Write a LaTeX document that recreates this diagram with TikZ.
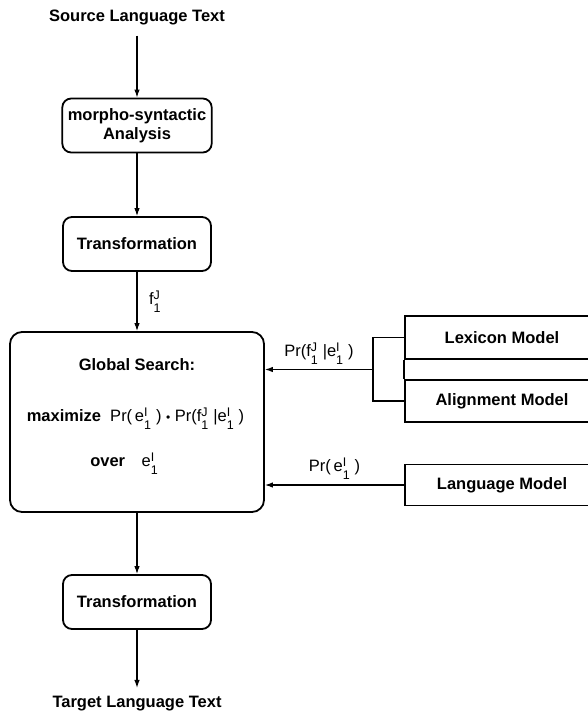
\documentclass[tikz,border=0pt]{standalone}
\usepackage{fontspec}
\setmainfont{Liberation Sans}
\usetikzlibrary{arrows.meta}

% stacked index: #1 below, #2 above
\newcommand{\idx}[2]{\makebox[0pt][l]{\raisebox{-0.5em}{\fontsize{12.5}{12}\selectfont #1}}\makebox[0.72em][l]{\raisebox{0.3em}{\fontsize{12.5}{12}\selectfont #2}}}
\newcommand{\tdot}{{\fontsize{12}{12}\selectfont\textbullet}}

\tikzset{
    stage/.style={draw, line width=1.8pt, rounded corners=9pt, minimum width=148pt,
                  minimum height=54pt, align=center, font=\bfseries},
    model/.style={draw, line width=1.8pt, minimum width=194pt, font=\bfseries},
    flow/.style={line width=1.2pt, -{Latex[length=8pt,width=5.5pt]}},
}

\begin{document}
\fontsize{16.5}{19}\selectfont
\begin{tikzpicture}[x=1pt, y=-1pt]
    \clip (0,0) rectangle (588,711);

    % left column
    \node[anchor=base, font=\bfseries] (src) at (137,21.5) {Source Language Text};
    \node[stage] (ana) at (137,125.5) {morpho-syntactic\\Analysis};
    \node[stage] (trf1) at (137,244) {Transformation};
    \node[draw, line width=1.8pt, rounded corners=12pt, minimum width=254pt,
          minimum height=180pt] (srch) at (137,422) {};
    \node[stage] (trf2) at (137,602) {Transformation};
    \node[anchor=base, font=\bfseries] (tgt) at (137,707) {Target Language Text};

    % text inside the search box
    \node[anchor=base, font=\bfseries] (gs) at (137,370) {Global Search:};
    \node[anchor=base] (maxi) at (135.5,421)
        {\textbf{maximize}\ \ Pr(\,e\idx{1}{I}) \tdot{} Pr(f\idx{1}{J}|e\idx{1}{I})};
    \node[anchor=base] (over) at (126.5,466) {\textbf{over}\quad e\idx{1}{I}};

    % models on the right
    \node[model, minimum height=43pt] (lex) at (502,337.5) {Lexicon Model};
    \node[model, minimum height=42pt] (aln) at (502,401) {Alignment Model};
    \node[model, minimum height=41pt] (lang) at (502,485) {Language Model};
    \draw[line width=1.8pt] (lex.south west) -- (aln.north west);
    \coordinate (brk) at (373,369.5);

    % connectors
    \draw[flow, shorten <=5pt] (src) -- (ana);
    \draw[flow] (ana) -- (trf1);
    \draw[flow] (trf1) -- node[right=6pt] (fJ) {f\idx{1}{J}} (srch);
    \draw[flow] (srch) -- (trf2);
    \draw[flow, shorten >=2pt] (trf2) -- (tgt);

    \draw[line width=1.2pt] (lex.west) -| (brk) |- (aln.west);
    \draw[flow] (brk) -- (brk -| srch.east)
        node[midway, above=-1pt] (pfe) {Pr(f\idx{1}{J}|e\idx{1}{I})};
    \draw[flow] (lang.west) -- (lang.west -| srch.east)
        node[midway, above=-1pt] (pe) {Pr(\,e\idx{1}{I})};
\end{tikzpicture}
\end{document}
